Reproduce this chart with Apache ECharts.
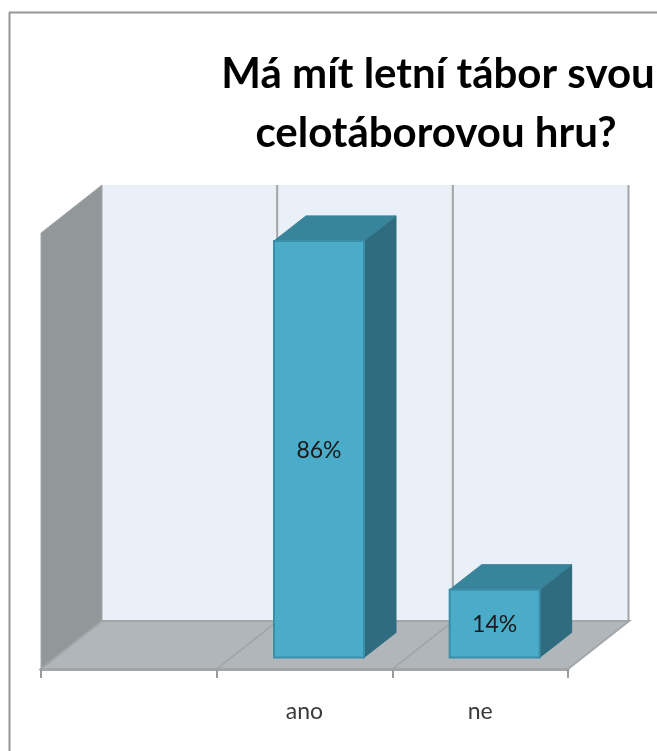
<!DOCTYPE html>
<html>
<head>
<meta charset="utf-8">
<style>html,body{margin:0;padding:0;background:#fff}#c{width:657px;height:751px}</style>
<script src="https://cdn.jsdelivr.net/npm/echarts@6/dist/echarts.min.js"></script>
</head>
<body>
<div id="c"></div>
<script>
const titleLines = ['Má mít letní tábor svou', 'celotáborovou hru?'];
const categories = ['', 'ano', 'ne'];
const values = [null, 86, 14];
const labels = ['', '86%', '14%'];
const axisMax = 90;

const depthX = 61, depthY = 48;
const barDepthX = 32, barDepthY = 25;
const barWidth = 90;
const FONT = 'Lato, "Open Sans", sans-serif';

function sceneItem(params, api) {
  const band = api.size([1, 0])[0];
  const x0 = api.coord([0, 0])[0] - band / 2;
  const y0 = api.coord([0, 0])[1];
  const yTop = api.coord([0, axisMax])[1];
  const edges = categories.map((_, i) => x0 + band * i);
  const xEnd = x0 + band * categories.length;
  const children = [];
  children.push({ type: 'polygon', shape: { points: [[x0 + depthX, yTop - depthY], [xEnd + depthX, yTop - depthY], [xEnd + depthX, y0 - depthY], [x0 + depthX, y0 - depthY]] }, style: { fill: '#e9f0f7' } });
  children.push({ type: 'polygon', shape: { points: [[x0, yTop], [x0 + depthX, yTop - depthY], [x0 + depthX, y0 - depthY], [x0, y0]] },
    style: { fill: '#92979a', stroke: '#a3a7a9', lineWidth: 1 } });
  children.push({ type: 'polygon', shape: { points: [[x0, y0], [xEnd, y0], [xEnd + depthX, y0 - depthY], [x0 + depthX, y0 - depthY]] },
    style: { fill: '#b1b6ba', stroke: '#a3a7aa', lineWidth: 2 } });
  edges.concat([xEnd]).forEach((x, i) => {
    if (i > 0) {
      children.push({ type: 'line', shape: { x1: x + depthX - 0.5, y1: yTop - depthY, x2: x + depthX - 0.5, y2: y0 - depthY }, style: { stroke: '#a2a4a6', lineWidth: 2 } });
      if (i < categories.length) {
        children.push({ type: 'line', shape: { x1: x, y1: y0, x2: x + depthX, y2: y0 - depthY }, style: { stroke: '#9ea2a5', lineWidth: 1.5 } });
      }
    }
  });
  return { type: 'group', children };
}

function barItem(params, api) {
  const i = api.value(0), v = api.value(1);
  const base = api.coord([i, 0]), top = api.coord([i, v]);
  const ox = (depthX - barDepthX) / 2, oy = (depthY - barDepthY) / 2;
  const l = base[0] - barWidth / 2 + ox, r = l + barWidth;
  const b = base[1] - oy, t = top[1] - oy;
  return {
    type: 'group',
    children: [
      { type: 'polygon', shape: { points: [[r, t], [r + barDepthX, t - barDepthY], [r + barDepthX, b - barDepthY], [r, b]] }, style: { fill: '#306c7f', stroke: '#2f6a7c', lineWidth: 1 } },
      { type: 'polygon', shape: { points: [[l, t], [l + barDepthX, t - barDepthY], [r + barDepthX, t - barDepthY], [r, t]] }, style: { fill: '#38849b', stroke: '#38839a', lineWidth: 1 } },
      { type: 'rect', shape: { x: l, y: t, width: barWidth, height: b - t }, style: { fill: '#4bacc9', stroke: '#3a8ea8', lineWidth: 2 } },
      { type: 'text', style: { x: (l + r) / 2, y: (t + b) / 2 + 1, text: labels[i], fill: '#1a1a1a', font: '23px ' + FONT, align: 'center', verticalAlign: 'middle' }, z2: 10 }
    ]
  };
}

const chart = echarts.init(document.getElementById('c'), null, { renderer: 'canvas' });
chart.setOption({
  animation: false,
  backgroundColor: '#fff',
  grid: { left: 41, right: 89, top: 233, bottom: 82 },
  title: [
    { text: titleLines[0], left: 433, top: 48, textAlign: 'center', textStyle: { fontFamily: FONT, fontWeight: 'bold', fontSize: 42, color: '#000' } },
    { text: titleLines[1], left: 431, top: 107, textAlign: 'center', textStyle: { fontFamily: FONT, fontWeight: 'bold', fontSize: 42, color: '#000' } }
  ],
  xAxis: {
    type: 'category', data: categories, z: 20,
    axisLine: { lineStyle: { color: '#a3a6a8', width: 3 } },
    axisTick: { show: true, alignWithLabel: false, length: 9, lineStyle: { color: '#9a9c9e', width: 2 } },
    axisLabel: { margin: 31, fontFamily: FONT, fontSize: 23, color: '#3a3a3a', interval: 0 }
  },
  yAxis: { type: 'value', min: 0, max: axisMax, show: false },
  graphic: [
    { type: 'line', shape: { x1: 9, y1: 12.5, x2: 657, y2: 12.5 }, style: { stroke: '#969696', lineWidth: 2 } },
    { type: 'line', shape: { x1: 9.5, y1: 12, x2: 9.5, y2: 751 }, style: { stroke: '#969696', lineWidth: 2 } }
  ],
  series: [
    { type: 'custom', renderItem: sceneItem, data: [[0, 0]], z: 1, silent: true, clip: false },
    { type: 'custom', renderItem: barItem, data: categories.map((c, i) => [i, values[i]]).filter(d => d[1] !== null), encode: { x: 0, y: 1 }, z: 3, clip: false }
  ]
});
</script>
</body>
</html>
